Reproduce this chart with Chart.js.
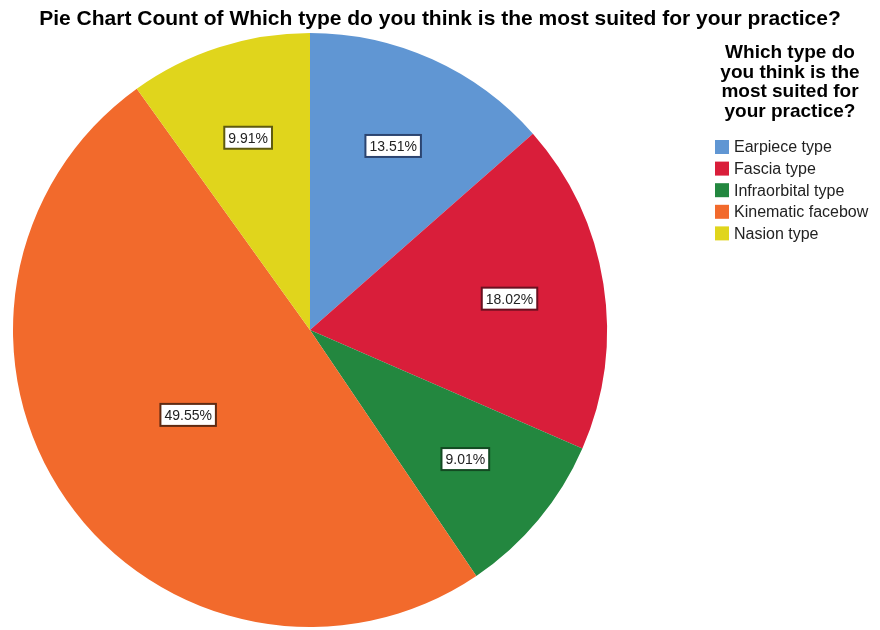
<!DOCTYPE html>
<html>
<head>
<meta charset="utf-8">
<script src="https://cdn.jsdelivr.net/npm/chart.js@4"></script>
<style>
  html, body { margin: 0; padding: 0; background: #fff; }
  #wrap { width: 880px; height: 630px; position: relative; }
</style>
</head>
<body>
<div id="wrap"><canvas id="pie" width="880" height="630"></canvas></div>
<script>
const chartTitle = 'Pie Chart Count of Which type do you think is the most suited for your practice?'
const legendTitle = ['Which type do', 'you think is the', 'most suited for', 'your practice?']
const categories = ['Earpiece type', 'Fascia type', 'Infraorbital type', 'Kinematic facebow', 'Nasion type']
const percents = [13.51, 18.02, 9.01, 49.55, 9.91]
const colors = ['#6096d3', '#d91e3a', '#23873f', '#f26a2c', '#e0d51c']
const labelBorders = ['#2b4470', '#6a1020', '#134a22', '#5e2a12', '#5e5a10']

// draws percentage boxes, title and legend on the canvas
const decor = {
  id: 'decor',
  afterDatasetsDraw(chart) {
    const ctx = chart.ctx
    const meta = chart.getDatasetMeta(0)
    ctx.save()
    ctx.font = '14px "Liberation Sans", Arial, sans-serif'
    ctx.textAlign = 'center'
    ctx.textBaseline = 'middle'
    meta.data.forEach((arc, i) => {
      const mid = (arc.startAngle + arc.endAngle) / 2
      const f = percents[i] > 40 ? 0.5 : 0.68
      const x = arc.x + Math.cos(mid) * arc.outerRadius * f
      const y = arc.y + Math.sin(mid) * arc.outerRadius * f
      const txt = percents[i].toFixed(2) + '%'
      const w = ctx.measureText(txt).width + 8
      ctx.fillStyle = '#fff'
      ctx.fillRect(x - w/2, y - 11, w, 22)
      ctx.strokeStyle = labelBorders[i]
      ctx.lineWidth = 2
      ctx.strokeRect(x - w/2, y - 11, w, 22)
      ctx.fillStyle = '#222'
      ctx.fillText(txt, x, y + 1)
    })

    // title
    ctx.fillStyle = '#000'
    ctx.font = 'bold 21px "Liberation Sans", Arial, sans-serif'
    ctx.fillText(chartTitle, 440, 19)

    // legend
    ctx.font = 'bold 19px "Liberation Sans", Arial, sans-serif'
    legendTitle.forEach((t, i) => ctx.fillText(t, 790, 53 + i * 19.5))
    ctx.font = '16px "Liberation Sans", Arial, sans-serif'
    ctx.textAlign = 'left'
    categories.forEach((c, i) => {
      const y = 147 + i * 21.6
      ctx.fillStyle = colors[i]
      ctx.fillRect(715, y - 7, 14, 14)
      ctx.fillStyle = '#222'
      ctx.fillText(c, 734, y + 1)
    })
    ctx.restore()
  }
}

new Chart(document.getElementById('pie').getContext('2d'), {
  type: 'pie',
  data: {
    labels: categories,
    datasets: [{ data: percents, backgroundColor: colors, borderWidth: 0 }]
  },
  options: {
    responsive: false, animation: false,
    layout: { padding: { left: 12, top: 33, right: 272, bottom: 3 } },
    plugins: { legend: { display: false }, title: { display: false }, tooltip: { enabled: false } }
  },
  plugins: [decor]
})
</script>
</body>
</html>
